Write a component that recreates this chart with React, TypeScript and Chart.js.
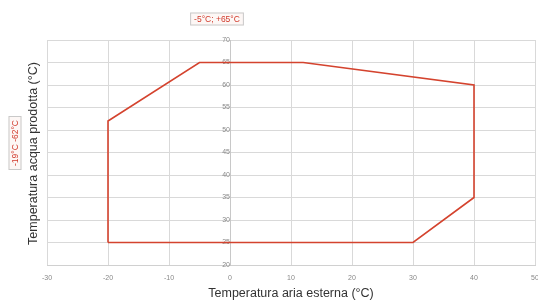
import React, { useEffect, useRef } from "react";
import { Chart, registerables } from "chart.js";

Chart.register(...registerables);

// Operating envelope: outdoor air temperature (x) vs produced water temperature (y)
const airTemps = [-20, -20, -5, 12, 40, 40, 30, -20];
const waterTemps = [25, 52, 65, 65, 60, 35, 25, 25];

const xMin = -30;
const xMax = 50;
const xStep = 10;
const yMin = 20;
const yMax = 70;
const yStep = 5;

const xTitle = "Temperatura aria esterna (°C)";
const yTitle = "Temperatura acqua prodotta (°C)";
const topNote = "-5°C; +65°C";
const sideNote = "-19°C -62°C";

const FONT = "'Liberation Sans', Arial, sans-serif";

const notesPlugin = {
  id: "notes",
  afterDraw(chart: any) {
    const ctx = chart.ctx;
    const area = chart.chartArea;
    ctx.save();
    // y title
    ctx.save();
    ctx.translate(34, (area.top + area.bottom) / 2 + 1);
    ctx.rotate(-Math.PI / 2);
    ctx.font = `12.5px ${FONT}`;
    ctx.fillStyle = "#333";
    ctx.textAlign = "center";
    ctx.textBaseline = "middle";
    ctx.fillText(yTitle, 0, 0);
    ctx.restore();

    const box = (text: string, cx: number, cy: number, rot: number) => {
      ctx.save();
      ctx.translate(cx, cy);
      ctx.rotate(rot);
      ctx.font = `8.5px ${FONT}`;
      const w = ctx.measureText(text).width + 8;
      const h = 13;
      ctx.fillStyle = "#fdf7f5";
      ctx.fillRect(-w / 2, -h / 2, w, h);
      ctx.strokeStyle = "#c9c9c9";
      ctx.lineWidth = 1;
      ctx.strokeRect(-w / 2 + 0.5, -h / 2 + 0.5, w - 1, h - 1);
      ctx.fillStyle = "#d0392b";
      ctx.textAlign = "center";
      ctx.textBaseline = "middle";
      ctx.fillText(text, 0, 0.5);
      ctx.restore();
    };
    box(topNote, 217, 19, 0);
    box(sideNote, 15, 143, -Math.PI / 2);
    ctx.restore();
  },
};

export default function App() {
  const ref = useRef<HTMLCanvasElement | null>(null);

  useEffect(() => {
    if (!ref.current) return;
    const chart = new Chart(ref.current, {
      type: "scatter",
      data: {
        datasets: [
          {
            data: airTemps.map((x, i) => ({ x, y: waterTemps[i] })),
            showLine: true,
            borderColor: "#d4432e",
            borderWidth: 1.6,
            pointRadius: 0,
            fill: false,
            tension: 0,
          },
        ],
      },
      options: {
        animation: false,
        responsive: false,
        maintainAspectRatio: false,
        layout: { padding: { left: 47, right: 3, top: 40, bottom: 0 } },
        plugins: {
          legend: { display: false },
          tooltip: { enabled: false },
        },
        scales: {
          x: {
            type: "linear",
            position: "bottom",
            min: xMin,
            max: xMax,
            ticks: {
              stepSize: xStep,
              padding: 9,
              color: "#888",
              font: { size: 7, family: FONT },
              maxRotation: 0,
            },
            grid: { color: "#d9d9d9", drawTicks: false, lineWidth: 1 },
            border: { color: "#d0d0d0" },
            title: {
              display: true,
              text: xTitle,
              color: "#333",
              font: { size: 12.5, family: FONT },
              padding: { top: 2, bottom: 1 },
            },
            afterFit: (s: any) => {
              s.height = 37;
              s.paddingRight = 0;
              s.paddingLeft = 0;
            },
          },
          y: {
            type: "linear",
            position: { x: 0 } as any,
            min: yMin,
            max: yMax,
            ticks: {
              stepSize: yStep,
              padding: 11,
              color: "#888",
              font: { size: 7, family: FONT },
            },
            grid: { color: "#d9d9d9", drawTicks: false, lineWidth: 1 },
            border: { color: "#c8c8c8" },
          },
        },
      },
      plugins: [notesPlugin],
    } as any);
    return () => chart.destroy();
  }, []);

  return (
    <div style={{ position: "absolute", left: 0, top: 0, width: 538, height: 302, background: "#fff" }}>
      <canvas ref={ref} width={538} height={302} style={{ width: 538, height: 302 }} />
    </div>
  );
}
